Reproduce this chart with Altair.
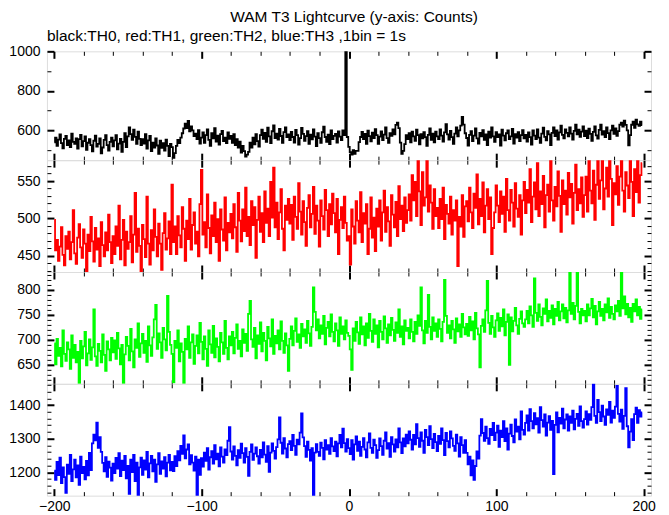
import altair as alt
import pandas as pd

# ---------------- data (1 bin = 1 s, bins from -200 s) ----------------
START = -200

th0 = [  # black, TH0
    540, 564, 522, 554, 580, 536, 510, 558, 572, 526, 550, 516, 584, 542, 532, 560, 508, 556, 578, 520,
    546, 570, 502, 538, 556, 526, 494, 548, 574, 518, 532, 560, 484, 514, 552, 576, 526, 498, 542, 564,
    520, 550, 576, 504, 534, 558, 492, 542, 586, 516, 570, 616, 582, 552, 604, 568, 532, 594, 558, 526,
    556, 534, 582, 508, 550, 572, 496, 538, 514, 560, 524, 482, 548, 512, 536, 498, 554, 522, 470, 532,
    516, 462, 486, 522, 552, 536, 564, 586, 610, 634, 612, 648, 596, 620, 600, 572, 584, 556, 602, 534,
    564, 590, 538, 576, 606, 552, 522, 586, 560, 612, 544, 574, 528, 582, 598, 546, 564, 536, 590, 558,
    572, 538, 582, 526, 556, 514, 544, 488, 522, 496, 468, 478, 492, 538, 514, 564, 530, 582, 546, 518,
    576, 604, 558, 588, 542, 614, 570, 536, 596, 626, 562, 584, 554, 608, 572, 538, 592, 616, 566, 580,
    551, 593, 567, 539, 603, 577, 529, 561, 613, 583, 547, 571, 597, 533, 579, 555, 605, 569, 521, 587,
    561, 537, 591, 619, 567, 543, 579, 531, 601, 557, 573, 583, 539, 595, 569, 551, 601, 577, 1180, 567,
    517, 491, 478, 501, 482, 497, 497, 541, 567, 593, 557, 583, 533, 599, 571, 545, 589, 561, 607, 577,
    533, 569, 595, 551, 579, 615, 561, 537, 587, 573, 605, 581, 628, 640, 612, 539, 482, 497, 531, 577,
    556, 586, 540, 594, 570, 548, 604, 576, 530, 582, 560, 592, 566, 522, 578, 610, 552, 584, 540, 594,
    570, 556, 606, 574, 544, 590, 632, 580, 554, 598, 566, 532, 584, 616, 570, 600, 625, 668, 630, 586,
    562, 524, 578, 596, 546, 574, 610, 560, 534, 588, 570, 602, 552, 580, 526, 594, 564, 616, 570, 542,
    592, 566, 580, 524, 604, 574, 550, 586, 600, 556, 570, 608, 534, 582, 564, 592, 546, 576, 602, 560,
    578, 544, 590, 566, 528, 600, 574, 556, 606, 564, 538, 584, 614, 568, 550, 596, 580, 526, 588, 616,
    572, 600, 554, 590, 624, 578, 560, 606, 588, 570, 616, 584, 554, 598, 630, 580, 604, 568, 594, 620,
    571, 599, 561, 609, 583, 547, 593, 621, 575, 559, 603, 629, 579, 597, 567, 615, 587, 557, 601, 625,
    583, 611, 573, 597, 629, 640, 619, 650, 628, 601, 525, 577, 629, 645, 613, 655, 631, 623, 645, 627,
]

th1 = [  # red, TH1
    498, 457, 471, 443, 462, 488, 451, 437, 476, 459, 482, 445, 468, 511, 453, 439, 474, 492, 461, 447,
    485, 466, 421, 478, 456, 502, 469, 442, 487, 458, 473, 436, 495, 464, 449, 481, 457, 505, 468, 440,
    476, 452, 489, 463, 517, 445, 471, 498, 437, 482, 459, 468, 503, 441, 478, 534, 455, 486, 463, 422,
    491, 472, 448, 529, 466, 438, 484, 457, 512, 475, 449, 493, 466, 431, 480, 507, 458, 473, 496, 452,
    545, 468, 489, 452, 503, 477, 461, 515, 486, 443, 497, 472, 526, 458, 491, 508, 466, 482, 449, 519,
    565, 478, 495, 461, 532, 487, 453, 504, 476, 521, 468, 499, 443, 512, 485, 470, 528, 457, 494, 481,
    506, 473, 519, 488, 455, 534, 497, 469, 512, 483, 541, 476, 502, 464, 523, 491, 515, 447, 498, 529,
    482, 507, 468, 536, 494, 513, 476, 549, 501, 568, 488, 521, 472, 508, 539, 486, 457, 517, 498, 526,
    493, 518, 471, 529, 502, 486, 547, 509, 478, 523, 495, 463, 514, 531, 488, 506, 542, 479, 517, 497,
    462, 524, 503, 485, 538, 511, 476, 519, 492, 533, 507, 481, 526, 452, 498, 515, 487, 529, 494, 470,
    476, 438, 512, 489, 466, 523, 497, 481, 535, 468, 507, 493, 519, 452, 486, 528, 474, 501, 456, 513,
    489, 524, 470, 508, 537, 482, 515, 496, 463, 531, 505, 488, 522, 476, 543, 499, 517, 483, 528, 494,
    511, 532, 497, 558, 524, 549, 503, 590, 536, 491, 562, 517, 528, 583, 509, 544, 521, 486, 539, 503,
    514, 487, 526, 499, 541, 472, 518, 506, 493, 529, 478, 511, 497, 524, 436, 502, 489, 531, 475, 516,
    523, 496, 541, 508, 487, 533, 514, 559, 492, 526, 503, 548, 481, 517, 539, 499, 528, 452, 487, 508,
    544, 517, 495, 536, 506, 529, 482, 553, 511, 497, 538, 521, 489, 547, 513, 502, 531, 478, 524, 549,
    507, 538, 521, 566, 495, 529, 548, 512, 574, 503, 536, 519, 557, 488, 531, 545, 509, 581, 524, 497,
    542, 516, 563, 530, 482, 551, 519, 537, 505, 561, 528, 546, 493, 534, 572, 511, 539, 520, 555, 502,
    531, 556, 509, 592, 537, 520, 564, 498, 545, 583, 526, 551, 596, 512, 540, 568, 529, 604, 553, 491,
    547, 532, 570, 518, 556, 588, 537, 509, 562, 544, 527, 599, 549, 503, 566, 535, 585, 521, 558, 574,
]

th2 = [  # green, TH2
    693, 651, 702, 668, 684, 647, 719, 672, 658, 695, 681, 642, 709, 664, 690, 655, 676, 605, 698, 663,
    687, 716, 649, 673, 701, 660, 685, 761, 667, 648, 692, 678, 655, 711, 670, 638, 697, 681, 659, 704,
    675, 699, 662, 714, 683, 651, 690, 608, 671, 706, 688, 659, 722, 677, 645, 701, 684, 733, 666, 693,
    712, 674, 698, 656, 727, 689, 668, 705, 741, 770, 682, 713, 695, 664, 724, 701, 679, 788, 716, 690,
    672, 615, 698, 684, 719, 657, 693, 676, 608, 702, 681, 727, 664, 695, 711, 652, 688, 709, 673, 734,
    696, 661, 707, 682, 648, 719, 691, 674, 728, 665, 703, 686, 657, 714, 695, 672, 738, 684, 661, 707,
    689, 716, 673, 704, 731, 682, 698, 667, 721, 694, 712, 678, 752, 778, 701, 686, 724, 663, 709, 692,
    735, 677, 714, 698, 659, 726, 703, 687, 741, 672, 708, 693, 719, 681, 737, 698, 674, 713, 689, 638,
    702, 727, 689, 718, 743, 696, 711, 684, 732, 707, 721, 694, 738, 713, 688, 726, 805, 756, 719, 741,
    703, 729, 712, 748, 691, 724, 736, 707, 751, 716, 697, 733, 719, 688, 745, 712, 727, 701, 739, 714,
    708, 681, 640, 723, 698, 736, 715, 692, 745, 711, 727, 689, 733, 704, 752, 718, 696, 741, 712, 729,
    685, 738, 716, 701, 747, 723, 694, 731, 709, 744, 720, 698, 735, 714, 761, 706, 727, 691, 739, 718,
    724, 703, 741, 716, 697, 736, 712, 749, 728, 805, 719, 693, 738, 714, 790, 726, 701, 745, 718, 733,
    706, 741, 722, 697, 736, 820, 748, 714, 729, 703, 738, 721, 694, 743, 717, 731, 706, 752, 725, 711,
    732, 708, 746, 719, 737, 701, 754, 723, 711, 645, 728, 741, 716, 759, 818, 734, 712, 748, 725, 706,
    739, 753, 718, 744, 727, 761, 709, 736, 751, 650, 745, 717, 738, 764, 729, 712, 742, 757, 733, 726,
    741, 758, 733, 767, 749, 726, 823, 754, 738, 771, 746, 729, 763, 752, 781, 737, 758, 744, 769, 731,
    762, 748, 776, 739, 757, 771, 743, 764, 735, 759, 840, 752, 774, 741, 768, 845, 756, 733, 762, 749,
    758, 737, 771, 749, 763, 782, 745, 768, 731, 757, 776, 748, 762, 739, 771, 755, 783, 744, 766, 752,
    741, 769, 757, 778, 748, 840, 763, 787, 751, 772, 745, 764, 736, 772, 757, 781, 749, 766, 742, 761,
]

th3 = [  # blue, TH3
    1205, 1178, 1231, 1192, 1244, 1168, 1215, 1186, 1139, 1223, 1196, 1252, 1174, 1209, 1238, 1185, 1221, 1163, 1247, 1198,
    1216, 1179, 1234, 1191, 1258, 1207, 1286, 1312, 1295, 1348, 1273, 1305, 1261, 1228, 1203, 1245, 1187, 1232, 1214, 1176,
    1226, 1198, 1243, 1211, 1257, 1189, 1235, 1207, 1249, 1182, 1219, 1136, 1238, 1201, 1252, 1174, 1229, 1128, 1215, 1244,
    1193, 1236, 1208, 1261, 1185, 1227, 1249, 1203, 1238, 1172, 1224, 1257, 1196, 1233, 1211, 1245, 1188, 1229, 1252, 1206,
    1231, 1204, 1248, 1219, 1263, 1236, 1279, 1255, 1310, 1242, 1268, 1283, 1224, 1251, 1229, 1205, 1247, 1126, 1238, 1193,
    1242, 1217, 1259, 1234, 1272, 1208, 1245, 1263, 1226, 1281, 1239, 1256, 1218, 1274, 1247, 1229, 1268, 1251, 1294, 1334,
    1262, 1238, 1277, 1249, 1221, 1266, 1243, 1285, 1257, 1229, 1272, 1246, 1190, 1261, 1283, 1237, 1256, 1274, 1248, 1226,
    1267, 1245, 1289, 1253, 1231, 1278, 1202, 1259, 1286, 1264, 1241, 1275, 1298, 1363, 1288, 1256, 1302, 1271, 1245, 1284,
    1293, 1266, 1311, 1279, 1252, 1297, 1283, 1318, 1375, 1304, 1278, 1246, 1291, 1267, 1235, 1272, 1131, 1259, 1284, 1261,
    1249, 1288, 1273, 1239, 1296, 1268, 1281, 1255, 1302, 1277, 1263, 1291, 1248, 1286, 1311, 1274, 1330, 1287, 1262, 1299,
    1272, 1254, 1296, 1238, 1283, 1307, 1264, 1291, 1249, 1276, 1302, 1268, 1245, 1289, 1316, 1273, 1258, 1297, 1281, 1243,
    1266, 1301, 1278, 1252, 1294, 1319, 1271, 1287, 1246, 1305, 1283, 1262, 1298, 1274, 1331, 1289, 1257, 1301, 1277, 1312,
    1286, 1322, 1297, 1268, 1311, 1283, 1343, 1302, 1276, 1319, 1294, 1258, 1326, 1305, 1281, 1337, 1299, 1272, 1314, 1290,
    1263, 1308, 1285, 1331, 1296, 1251, 1317, 1293, 1274, 1322, 1301, 1279, 1264, 1312, 1286, 1247, 1305, 1281, 1258, 1296,
    1258, 1224, 1247, 1191, 1236, 1178, 1219, 1262, 1241, 1309, 1358, 1317, 1294, 1336, 1302, 1285, 1329, 1311, 1347, 1296,
    1318, 1339, 1276, 1324, 1305, 1352, 1293, 1331, 1268, 1315, 1342, 1308, 1289, 1357, 1321, 1336, 1298, 1381, 1326, 1312,
    1347, 1369, 1324, 1388, 1352, 1331, 1376, 1343, 1361, 1318, 1394, 1355, 1336, 1372, 1309, 1348, 1367, 1326, 1353, 1195,
    1341, 1378, 1319, 1362, 1345, 1389, 1331, 1357, 1372, 1324, 1366, 1347, 1383, 1328, 1359, 1374, 1338, 1396, 1352, 1333,
    1358, 1381, 1342, 1373, 1356, 1394, 1462, 1368, 1347, 1415, 1379, 1352, 1398, 1366, 1341, 1387, 1371, 1409, 1348, 1383,
    1362, 1395, 1457, 1374, 1351, 1386, 1329, 1368, 1450, 1337, 1274, 1321, 1358, 1296, 1373, 1392, 1347, 1385, 1366, 1378,
]

# ---------------- axes / layout settings ----------------
X_DOMAIN = [-205, 205]
X_MAJOR = [-200, -100, 0, 100, 200]
X_MINOR = [-180, -160, -140, -120, -80, -60, -40, -20, 20, 40, 60, 80, 120, 140, 160, 180]

panels = [
    dict(values=th0, color="#000000", domain=[450, 1000], major=[600, 800, 1000],
         minor=[500, 700, 900], height=109, sw=1.8),
    dict(values=th1, color="#ff0000", domain=[428, 578], major=[450, 500, 550],
         minor=[430, 440, 460, 470, 480, 490, 510, 520, 530, 540, 560, 570], height=112, sw=1.8),
    dict(values=th2, color="#00ff00", domain=[612, 836], major=[650, 700, 750, 800],
         minor=[620, 630, 640, 660, 670, 680, 690, 710, 720, 730, 740, 760, 770, 780, 790, 810, 820, 830],
         height=112, sw=1.8),
    dict(values=th3, color="#0000ff", domain=[1131, 1463], major=[1200, 1300, 1400],
         minor=[1140, 1160, 1180, 1220, 1240, 1260, 1280, 1320, 1340, 1360, 1380, 1420, 1440, 1460],
         height=112, sw=1.8),
]

FONT = "Liberation Sans"
PLOT_W = 605


def ax(orient, values, major, labels=False):
    return alt.Axis(
        orient=orient, values=values, format="d",
        tickSize=7 if major else 4, offset=-7 if major else -4,
        tickWidth=2 if major else 1, tickColor="black",
        labels=labels, labelPadding=7 if orient == "left" else 4,
        labelFont=FONT, labelFontSize=14, labelColor="black",
        labelFlush=False, domain=False, grid=False, title=None,
    )


def make_panel(p, last):
    df = pd.DataFrame({"t": list(range(START, START + len(p["values"]))), "v": p["values"]})
    tiny = pd.DataFrame({"t": X_DOMAIN, "v": p["domain"]})
    xs = alt.Scale(domain=X_DOMAIN, nice=False, zero=False)
    ys = alt.Scale(domain=p["domain"], nice=False, zero=False)

    line = alt.Chart(df).mark_line(
        interpolate="step", color=p["color"], strokeWidth=p["sw"], clip=True
    ).encode(
        x=alt.X("t:Q", scale=xs, axis=ax("bottom", X_MAJOR, True, labels=last)),
        y=alt.Y("v:Q", scale=ys, axis=ax("left", p["major"], True, labels=True)),
    )
    layers = [line]
    for xo, yo, major in [("top", "right", True), ("bottom", "left", False), ("top", "right", False)]:
        layers.append(
            alt.Chart(tiny).mark_point(opacity=0).encode(
                x=alt.X("t:Q", scale=xs, axis=ax(xo, X_MAJOR if major else X_MINOR, major)),
                y=alt.Y("v:Q", scale=ys, axis=ax(yo, p["major"] if major else p["minor"], major)),
            )
        )
    return alt.layer(*layers).resolve_axis(x="independent", y="independent").properties(
        width=PLOT_W, height=p["height"]
    )


charts = [make_panel(p, i == len(panels) - 1) for i, p in enumerate(panels)]
charts[0] = charts[0].properties(
    title=alt.Title(
        "black:TH0, red:TH1, green:TH2, blue:TH3 ,1bin = 1s",
        anchor="start", frame="group", font=FONT, fontSize=15.5, fontWeight="normal",
        color="black", offset=0,
    )
)

chart = alt.vconcat(
    *charts, spacing=0, bounds="flush",
    title=alt.Title(
        "WAM T3 Lightcurve (y-axis: Counts)", anchor="middle", font=FONT,
        fontSize=15.5, fontWeight="normal", color="black", offset=3, dx=22,
    ),
).resolve_scale(x="independent", y="independent").resolve_axis(
    x="independent", y="independent"
).properties(
    padding={"left": 0, "top": 1, "right": 5, "bottom": 2}
).configure_view(
    stroke="black", strokeWidth=1
).configure(background="white")

chart.save("out.html", embed_options={"renderer": "svg", "actions": False})
